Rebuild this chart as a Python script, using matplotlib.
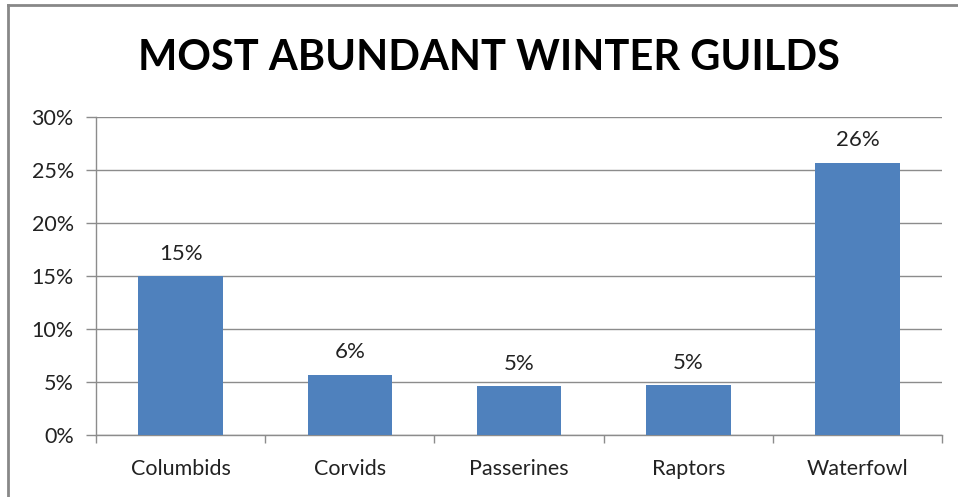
import matplotlib.pyplot as plt
from matplotlib.lines import Line2D
from matplotlib.ticker import PercentFormatter
import numpy as np

# winter guild shares
guilds = ['Columbids', 'Corvids', 'Passerines', 'Raptors', 'Waterfowl']
shares = [0.150, 0.057, 0.046, 0.047, 0.257]
yticks = [0, 0.05, 0.10, 0.15, 0.20, 0.25, 0.30]

plt.rcParams['font.family'] = ['Lato', 'DejaVu Sans']

fig = plt.figure(figsize=(9.58, 4.97), dpi=100)
ax = fig.add_axes([96 / 958, 1 - 435 / 497, 846 / 958, 318 / 497])

grid_c = '#8c8c8c'
bar_c = '#4f81bd'
text_c = '#222222'

x = np.arange(len(guilds))
ax.bar(x, shares, width=0.5, color=bar_c, zorder=3)
for xi, v in zip(x, shares):
    ax.annotate(f'{v:.0%}', (xi, v), xytext=(0, 9), textcoords='offset points',
                ha='center', va='bottom', fontsize=16, color=text_c)

ax.set_xlim(-0.5, len(guilds) - 0.5)
ax.set_ylim(0, 0.30)
ax.set_yticks(yticks)
ax.yaxis.set_major_formatter(PercentFormatter(1.0, decimals=0))
ax.grid(axis='y', color=grid_c, linewidth=1, zorder=0)

# category labels centred, tick marks between categories
ax.set_xticks(x)
ax.set_xticklabels(guilds)
ax.set_xticks(np.arange(-0.5, len(guilds)), minor=True)
ax.tick_params(axis='x', which='major', length=0, pad=17, labelsize=15.5, labelcolor=text_c)
ax.tick_params(axis='x', which='minor', length=6, color=grid_c, width=1)
ax.tick_params(axis='y', length=7, color=grid_c, width=1, pad=9, labelsize=15.5, labelcolor=text_c)

for side in ['top', 'right']:
    ax.spines[side].set_visible(False)
for side in ['left', 'bottom']:
    ax.spines[side].set_color(grid_c)
    ax.spines[side].set_linewidth(1)

fig.text(489 / 958, 1 - 58 / 497, 'MOST ABUNDANT WINTER GUILDS', ha='center', va='center',
         fontsize=30, fontweight='bold', color='black')

# chart frame along top and left edges
fig.add_artist(Line2D([8 / 958, 1], [1 - 5 / 497, 1 - 5 / 497], transform=fig.transFigure,
                      color='#888888', linewidth=2))
fig.add_artist(Line2D([8 / 958, 8 / 958], [0, 1 - 5 / 497], transform=fig.transFigure,
                      color='#888888', linewidth=2))

fig.savefig('out.png', dpi=100)
